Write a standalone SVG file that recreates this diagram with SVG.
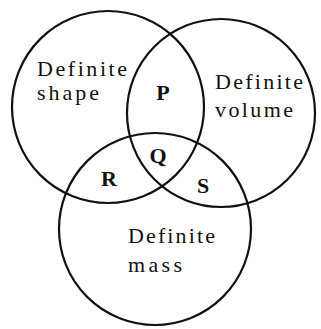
<svg xmlns="http://www.w3.org/2000/svg" width="321" height="329" viewBox="0 0 321 329">
<style>
.c{fill:none;stroke:#111;stroke-width:2.2}
.t{font-family:"Liberation Serif","Times New Roman",serif;font-size:22px;fill:#111}
.l{font-family:"Liberation Serif","Times New Roman",serif;font-size:22px;font-weight:bold;fill:#111;text-anchor:middle}
</style>
<rect width="321" height="329" fill="#fff"/>
<g id="shape">
<circle class="c" cx="108" cy="107" r="96"/>
<text class="t" x="37" y="76" textLength="90">Definite</text>
<text class="t" x="37" y="100" textLength="62">shape</text>
</g>
<g id="volume">
<circle class="c" cx="221" cy="113" r="94"/>
<text class="t" x="215" y="89" textLength="88">Definite</text>
<text class="t" x="215" y="117" textLength="78">volume</text>
</g>
<g id="mass">
<circle class="c" cx="155" cy="229" r="96"/>
<text class="t" x="128" y="243" textLength="87">Definite</text>
<text class="t" x="128" y="272" textLength="54">mass</text>
</g>
<g id="regions">
<text class="l" x="163" y="100">P</text>
<text class="l" x="158" y="163">Q</text>
<text class="l" x="109" y="186">R</text>
<text class="l" x="203" y="193">S</text>
</g>
</svg>
